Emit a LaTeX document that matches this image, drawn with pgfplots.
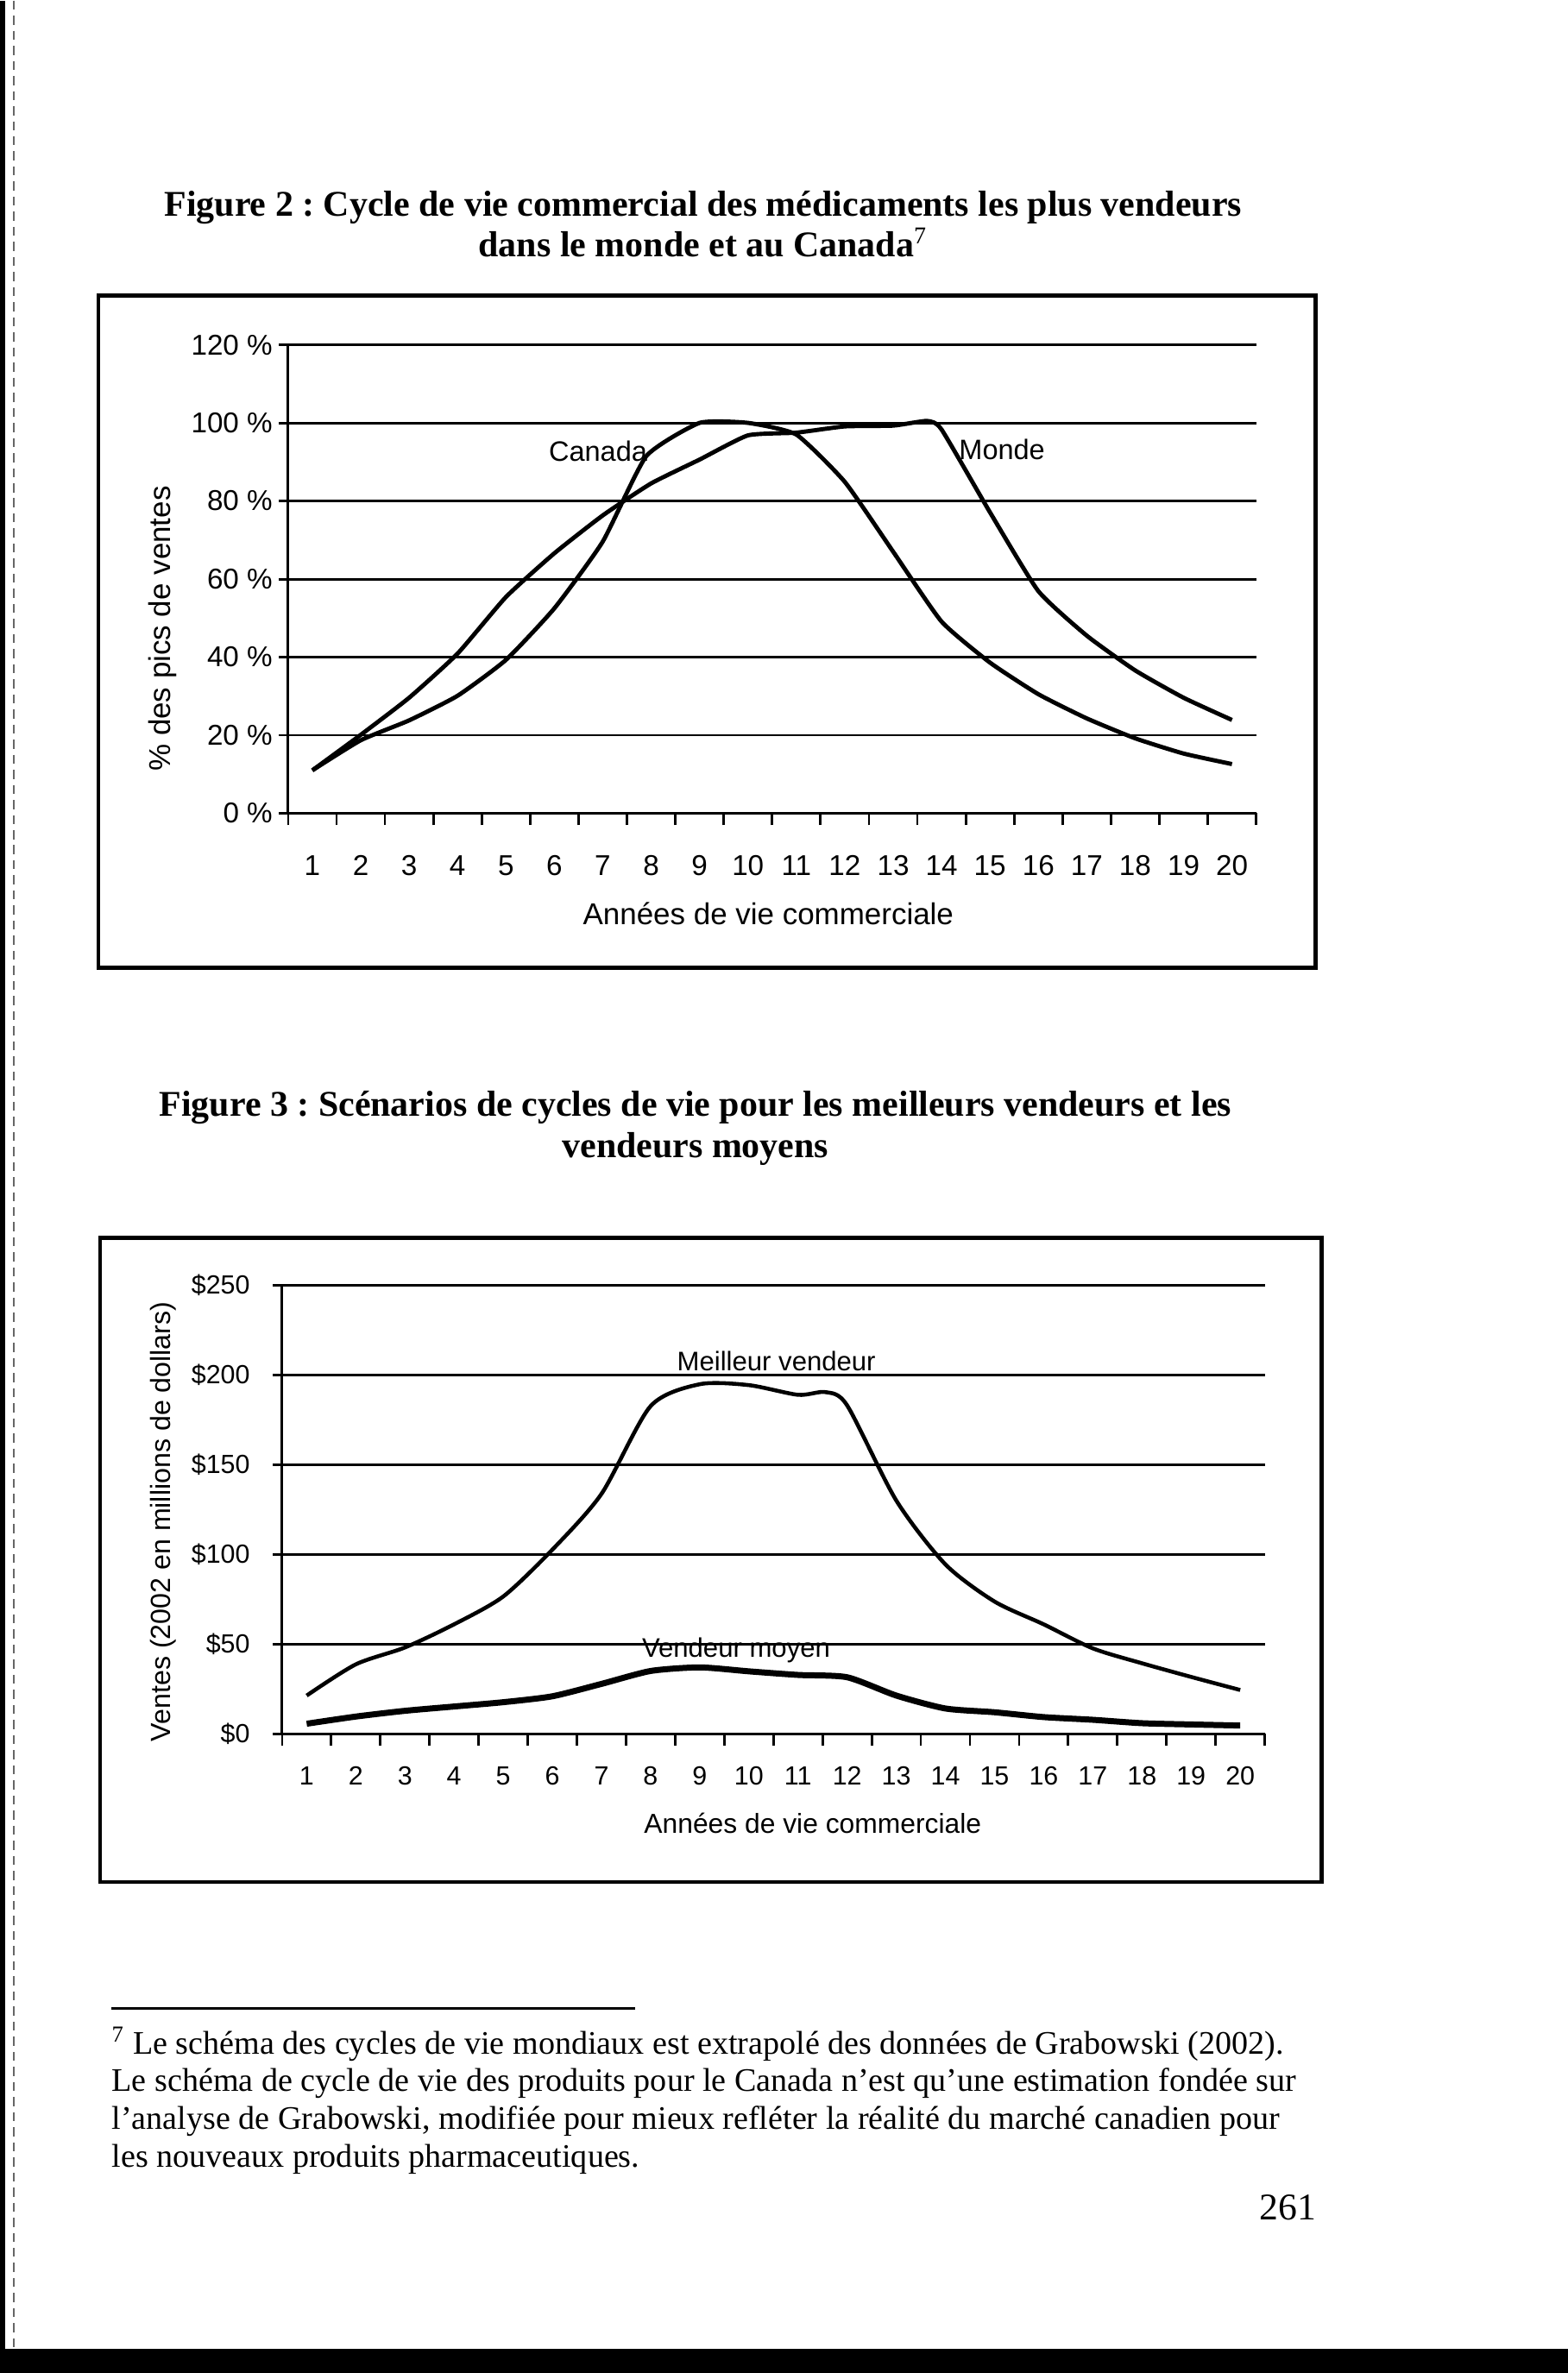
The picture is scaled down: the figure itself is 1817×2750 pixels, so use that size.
\documentclass[border=0pt]{standalone}
\usepackage{fontspec}
\setmainfont{Liberation Serif}
\newfontfamily\arial{Liberation Sans}
\usepackage{pgfplots}
\pgfplotsset{compat=1.18}
\frenchspacing
\pgfplotsset{
 mychart/.style={
  scale only axis,
  axis x line*=bottom, axis y line*=left,
  xmin=0.5, xmax=20.5,
  xtick={1,...,20},
  minor xtick={0.5,1.5,...,20.5},
  major x tick style={draw=none},
  minor x tick style={black, line width=0.8pt},
  minor tick length=4pt,
  major tick length=3pt,
  tick align=outside,
  ymajorgrids,
  grid style={black, line width=0.85pt},
  axis line style={black, line width=0.85pt},
  ytick style={black, line width=0.85pt},
  /pgf/number format/assume math mode=true,
  clip=false,
 }
}
\begin{document}
\begin{tikzpicture}
\begin{scope}[x=0.286pt,y=-0.286pt]
\fill[white] (0,0) rectangle (1817,2750);
% scan edges
\fill[black] (0,0) rectangle (6,2750);
\draw[black!60, line width=0.4pt, dash pattern=on 3pt off 2pt] (16,0) -- (16,2720);
\fill[black] (0,2722) rectangle (1817,2750);
% titles
\node[font=\bfseries\fontsize{12}{14}\selectfont, anchor=base, inner sep=0] at (815,250) {Figure 2 : Cycle de vie commercial des médicaments les plus vendeurs};
\node[font=\bfseries\fontsize{12}{14}\selectfont, anchor=base, inner sep=0] at (815,297) {dans le monde et au Canada\textsuperscript{\normalfont 7}};
\node[font=\bfseries\fontsize{12}{14}\selectfont, anchor=base, inner sep=0] at (806,1293) {Figure 3 : Scénarios de cycles de vie pour les meilleurs vendeurs et les};
\node[font=\bfseries\fontsize{12}{14}\selectfont, anchor=base, inner sep=0] at (806,1341) {vendeurs moyens};
% frames
\draw[line width=1.3pt] (114,342) rectangle (1525,1121);
\draw[line width=1.3pt] (116,1434) rectangle (1532,2181);
% footnote
\draw[line width=0.9pt] (129,2327) -- (736,2327);
\node[anchor=base west, inner sep=0, font=\fontsize{10.9}{13}\selectfont] at (129,2380) {\textsuperscript{7} Le schéma des cycles de vie mondiaux est extrapolé des données de Grabowski (2002).};
\node[anchor=base west, inner sep=0, font=\fontsize{10.9}{13}\selectfont] at (129,2423) {Le schéma de cycle de vie des produits pour le Canada n’est qu’une estimation fondée sur};
\node[anchor=base west, inner sep=0, font=\fontsize{10.9}{13}\selectfont] at (129,2467) {l’analyse de Grabowski, modifiée pour mieux refléter la réalité du marché canadien pour};
\node[anchor=base west, inner sep=0, font=\fontsize{10.9}{13}\selectfont] at (129,2511) {les nouveaux produits pharmaceutiques.};
\node[anchor=base east, inner sep=0, font=\fontsize{12.5}{14}\selectfont] at (1526,2572) {261};
\end{scope}

% ---------- Figure 2 ----------
\begin{axis}[mychart,
  at={(95.52pt,-269.41pt)}, anchor=south west,
  width=320.9pt, height=155.3pt,
  ymin=0, ymax=120, ytick={0,20,...,120},
  yticklabels={0 \%,20 \%,40 \%,60 \%,80 \%,100 \%,120 \%},
  tick label style={font=\arial\fontsize{9.5}{11}\selectfont},
  yticklabel style={inner sep=2pt},
  xticklabel style={anchor=base, yshift=-17.7pt},
  xlabel={Années de vie commerciale},
  xlabel style={font=\arial\fontsize{10}{12}\selectfont, at={(axis description cs:0.496,0)}, anchor=center, yshift=-33.2pt},
  ylabel={\% des pics de ventes},
  ylabel style={font=\arial\fontsize{10}{12}\selectfont, at={(axis description cs:-0.1293,0.394)}, anchor=center},
]
% Canada
\addplot[black, line width=1.4pt, smooth, tension=0.3] coordinates {
(1,11)(2,18.7)(3,23.8)(4,30.1)(5,39.3)(6,52.5)(7,69.6)(7.9,91.5)(9,100)(10,100)(11,97)(12,84.9)(13,67)(14,49.1)(15,38.6)(16,30.5)(17,24.3)(18,19.2)(19,15.3)(20,12.6)};
% Monde
\addplot[black, line width=1.4pt, smooth, tension=0.3] coordinates {
(1,11)(2,20.1)(3,29.6)(4,40.9)(5,55.4)(6,66.6)(7,76.3)(8,84.5)(9,90.6)(10,96.8)(11,97.5)(12,99.1)(13,99.3)(13.7,100.5)(14,98.3)(15,77.1)(16,56.9)(17,45.5)(18,36.6)(19,29.6)(20,23.9)};
\node[font=\arial\fontsize{9.3}{11}\selectfont, anchor=base east, inner sep=0] at (axis cs:7.93,90.2) {Canada};
\node[font=\arial\fontsize{9.3}{11}\selectfont, anchor=base west, inner sep=0] at (axis cs:14.35,90.6) {Monde};
\end{axis}

% ---------- Figure 3 ----------
\begin{axis}[mychart,
  at={(93.52pt,-574.57pt)}, anchor=south west,
  width=325.75pt, height=148.72pt,
  ymin=0, ymax=250, ytick={0,50,...,250},
  yticklabels={\$0,\$50,\$100,\$150,\$200,\$250},
  tick label style={font=\arial\fontsize{8.7}{10}\selectfont},
  yticklabel style={inner sep=2pt, xshift=-5.5pt},
  xticklabel style={anchor=base, yshift=-14pt},
  xlabel={Années de vie commerciale},
  xlabel style={font=\arial\fontsize{9.1}{11}\selectfont, at={(axis description cs:0.54,0)}, anchor=center, yshift=-29.7pt},
  ylabel={Ventes (2002 en millions de dollars)},
  ylabel style={font=\arial\fontsize{9.2}{11}\selectfont, at={(axis description cs:-0.1212,0.473)}, anchor=center},
]
% Meilleur vendeur
\addplot[black, line width=1.3pt, smooth, tension=0.45] coordinates {
(1,21.3)(2,38.7)(3,48.1)(4,61)(5,76.5)(6,102.6)(7,133.7)(8,182.6)(9,194.8)(10,194.3)(11,188.9)(11.56,190.4)(12,183)(13,130)(14,94.4)(15,73.7)(16,61)(17,47.6)(18,39.3)(19,31.7)(20,24.4)};
% Vendeur moyen
\addplot[black, line width=2pt, smooth, tension=0.4] coordinates {
(1,5.6)(2,9.6)(3,12.8)(4,15.2)(5,17.6)(6,20.9)(7,27.8)(8,35)(9,37)(10,34.8)(11,32.8)(12,31.5)(13,21.3)(14,14.1)(15,12)(16,9.3)(17,7.8)(18,5.9)(19,5.2)(20,4.6)};
\node[font=\arial\fontsize{8.9}{11}\selectfont, anchor=base, inner sep=0] at (axis cs:10.56,202.4) {Meilleur vendeur};
\node[font=\arial\fontsize{8.9}{11}\selectfont, anchor=base, inner sep=0] at (axis cs:9.74,42.8) {Vendeur moyen};
\end{axis}
\end{tikzpicture}
\end{document}
